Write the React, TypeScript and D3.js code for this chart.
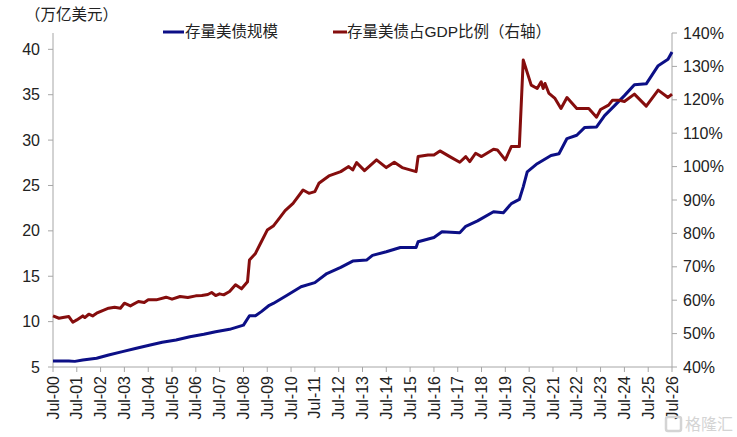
import React, { useEffect } from 'react';
import * as d3 from 'd3';

// 存量美债规模（万亿美元）
const debtDates = [
  '2000-07', '2001-03', '2001-06', '2001-10', '2002-05', '2002-11', '2003-06', '2004-01',
  '2004-08', '2005-02', '2005-09', '2006-04', '2006-11', '2007-05', '2007-12', '2008-07',
  '2008-10', '2009-01', '2009-04', '2009-08', '2009-10', '2010-05', '2010-12', '2011-07',
  '2012-01', '2012-08', '2013-02', '2013-09', '2013-12', '2014-07', '2015-02', '2015-10',
  '2015-11', '2016-07', '2016-11', '2017-08', '2017-11', '2018-05', '2019-01', '2019-06',
  '2019-10', '2020-02', '2020-04', '2020-06', '2020-11', '2021-06', '2021-10', '2022-02',
  '2022-07', '2022-11', '2023-05', '2023-09', '2024-02', '2024-07', '2024-12', '2025-06',
  '2025-12', '2026-05', '2026-07',
];
const debtValues = [
  5.66, 5.66, 5.62, 5.77, 5.96, 6.32, 6.69, 7.06,
  7.42, 7.72, 7.97, 8.34, 8.6, 8.89, 9.15, 9.62,
  10.65, 10.65, 11.1, 11.8, 12.0, 12.9, 13.84, 14.3,
  15.3, 15.97, 16.67, 16.78, 17.3, 17.7, 18.17, 18.17,
  18.8, 19.27, 19.9, 19.8, 20.5, 21.1, 22.1, 22.0,
  23.0, 23.46, 24.85, 26.5, 27.4, 28.3, 28.5, 30.17,
  30.53, 31.4, 31.45, 32.7, 33.8, 34.9, 36.1, 36.2,
  38.2, 38.9, 39.7,
];

// 存量美债占GDP比例（%，右轴）
const ratioDates = [
  '2000-07', '2000-10', '2000-12', '2001-03', '2001-05', '2001-07', '2001-10', '2001-11',
  '2002-01', '2002-03', '2002-05', '2002-08', '2002-11', '2003-02', '2003-05', '2003-07',
  '2003-10', '2004-02', '2004-05', '2004-07', '2004-11', '2005-04', '2005-07', '2005-11',
  '2006-03', '2006-07', '2006-10', '2007-01', '2007-03', '2007-05', '2007-07', '2007-09',
  '2007-12', '2008-03', '2008-06', '2008-09', '2008-10', '2009-01', '2009-04', '2009-07',
  '2009-10', '2010-01', '2010-04', '2010-08', '2011-01', '2011-04', '2011-07', '2011-09',
  '2012-02', '2012-08', '2012-12', '2013-02', '2013-04', '2013-08', '2014-02', '2014-07',
  '2014-11', '2015-03', '2015-10', '2015-11', '2016-04', '2016-07', '2016-10', '2017-03',
  '2017-08', '2017-11', '2018-01', '2018-04', '2018-07', '2019-01', '2019-03', '2019-07',
  '2019-10', '2020-02', '2020-04', '2020-08', '2020-11', '2021-01', '2021-02', '2021-03',
  '2021-05', '2021-08', '2021-11', '2022-02', '2022-07', '2023-01', '2023-05', '2023-07',
  '2023-11', '2024-01', '2024-04', '2024-07', '2024-12', '2025-06', '2025-12', '2026-05',
  '2026-07',
];
const ratioValues = [
  55.3, 54.6, 54.8, 55.1, 53.4, 54.1, 55.3, 54.8,
  55.8, 55.3, 56.1, 56.9, 57.6, 57.9, 57.6, 59.1,
  58.3, 59.6, 59.3, 60.1, 60.1, 60.9, 60.3, 61.1,
  60.8, 61.3, 61.4, 61.7, 62.3, 61.4, 61.9, 61.6,
  62.6, 64.6, 63.4, 65.5, 72.0, 74.0, 77.5, 81.0,
  82.2, 84.5, 86.8, 89.0, 93.0, 92.0, 92.5, 95.0,
  97.2, 98.5, 100.0, 99.0, 101.2, 98.8, 102.0, 99.7,
  101.3, 99.7, 98.5, 103.0, 103.5, 103.5, 104.7, 103.0,
  101.3, 103.0, 101.5, 104.0, 103.0, 105.2, 105.0, 102.0,
  106.0, 106.0, 131.9, 124.4, 123.4, 125.4, 123.4, 124.9,
  121.9, 120.4, 117.4, 120.7, 117.4, 117.4, 114.8, 117.1,
  118.4, 119.9, 119.9, 119.5, 121.7, 118.1, 122.9, 120.7,
  121.7,
];

const leftTicks = [5, 10, 15, 20, 25, 30, 35, 40];
const rightTicks = [40, 50, 60, 70, 80, 90, 100, 110, 120, 130, 140];
const tickYears = d3.range(2000, 2027);

const BLUE = '#0c0f86';
const RED = '#850d0d';
const AXIS = '#a6a6a6';
const FONT = '"Liberation Sans", Arial, "Noto Sans CJK SC", sans-serif';

const parse = d3.timeParse('%Y-%m');

const App: React.FC = () => {
  useEffect(() => {
    document.body.style.margin = '0';
  }, []);

  const width = 737;
  const height = 437;
  const plot = { left: 53, right: 672, top: 33, bottom: 367 };

  const x = d3.scaleTime()
    .domain([new Date(2000, 6, 1), new Date(2026, 6, 1)])
    .range([plot.left, plot.right]);
  const yLeft = d3.scaleLinear().domain([5, 41.8]).range([plot.bottom, plot.top]);
  const yRight = d3.scaleLinear().domain([40, 140]).range([plot.bottom, plot.top]);

  const debt = debtDates.map((d, i) => ({ date: parse(d) as Date, value: debtValues[i] }));
  const ratio = ratioDates.map((d, i) => ({ date: parse(d) as Date, value: ratioValues[i] }));

  const debtLine = d3.line<{ date: Date; value: number }>()
    .x(d => x(d.date))
    .y(d => yLeft(d.value));
  const ratioLine = d3.line<{ date: Date; value: number }>()
    .x(d => x(d.date))
    .y(d => yRight(d.value));

  const fmtTick = (yr: number) => `Jul-${String(yr % 100).padStart(2, '0')}`;

  return (
    <svg width={width} height={height} style={{ display: 'block', background: '#fff' }} fontFamily={FONT}>
      {/* axes */}
      <line x1={plot.left} x2={plot.left} y1={plot.top} y2={plot.bottom} stroke={AXIS} />
      <line x1={plot.right} x2={plot.right} y1={plot.top} y2={plot.bottom} stroke={AXIS} />
      <line x1={plot.left} x2={plot.right} y1={plot.bottom} y2={plot.bottom} stroke={AXIS} />

      {leftTicks.map(t => (
        <g key={`l${t}`} transform={`translate(0,${yLeft(t)})`}>
          <line x1={plot.left - 5} x2={plot.left} stroke={AXIS} />
          <text x={40} dy="0.35em" textAnchor="end" fontSize={16} fill="#222">{t}</text>
        </g>
      ))}

      {rightTicks.map(t => (
        <g key={`r${t}`} transform={`translate(0,${yRight(t)})`}>
          <line x1={plot.right} x2={plot.right + 5} stroke={AXIS} />
          <text x={683} dy="0.35em" textAnchor="start" fontSize={16} fill="#222">{t}%</text>
        </g>
      ))}

      {tickYears.map(yr => {
        const tx = x(new Date(yr, 6, 1));
        return (
          <g key={`x${yr}`}>
            <line x1={tx} x2={tx} y1={plot.bottom} y2={plot.bottom + 5} stroke={AXIS} />
            <text
              transform={`translate(${tx},${plot.bottom + 9}) rotate(-90)`}
              dy="0.35em"
              textAnchor="end"
              fontSize={16}
              fill="#222"
            >
              {fmtTick(yr)}
            </text>
          </g>
        );
      })}

      {/* series */}
      <path d={debtLine(debt) ?? ''} fill="none" stroke={BLUE} strokeWidth={3} strokeLinejoin="round" />
      <path d={ratioLine(ratio) ?? ''} fill="none" stroke={RED} strokeWidth={3} strokeLinejoin="round" />

      {/* unit label */}
      <text x={25} y={20} fontSize={15.5} fill="#222">（万亿美元）</text>

      {/* legend */}
      <line x1={163} x2={184} y1={32} y2={32} stroke={BLUE} strokeWidth={3} />
      <text x={185} y={32} dy="0.35em" fontSize={15.5} fill="#222">存量美债规模</text>
      <line x1={333} x2={347} y1={32} y2={32} stroke={RED} strokeWidth={3} />
      <text x={347} y={32} dy="0.35em" fontSize={15.5} fill="#222">存量美债占GDP比例（右轴）</text>

      {/* watermark */}
      <rect x={666} y={417} width={15} height={14} fill="none" stroke="#d4d4d4" strokeWidth={2.5} rx={2} />
      <text x={685} y={430} fontSize={16} fill="#d4d4d4">格隆汇</text>
    </svg>
  );
};

export default App;
